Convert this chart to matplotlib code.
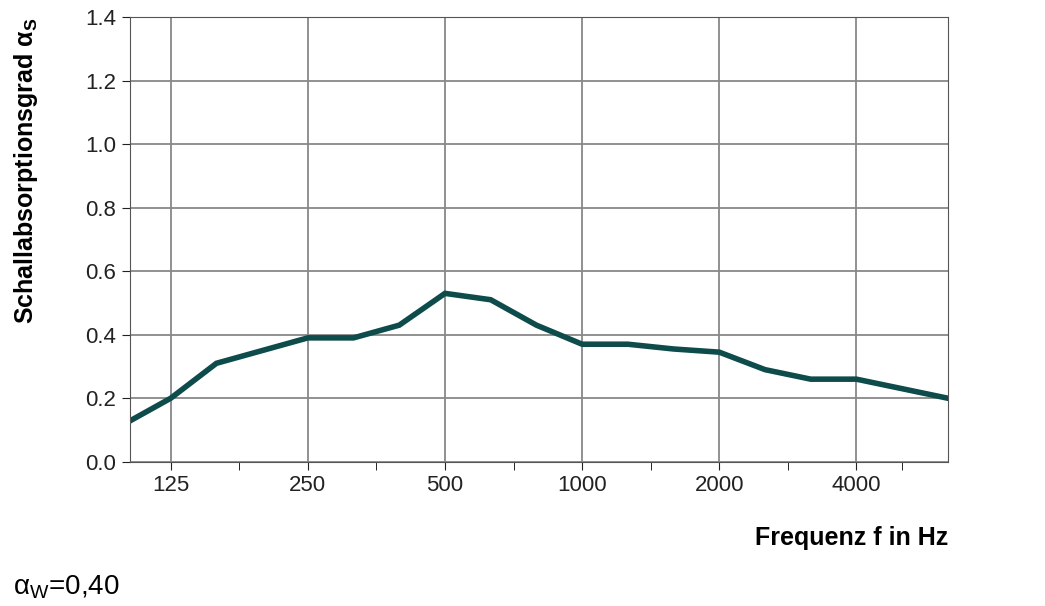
import matplotlib.pyplot as plt

plt.rcParams['font.family'] = ['Liberation Sans', 'DejaVu Sans']

freq_labels = ["125", "250", "500", "1000", "2000", "4000"]
label_pos = [1, 4, 7, 10, 13, 16]
# third-octave bands 100 Hz .. 6300 Hz
alpha = [0.12, 0.20, 0.31, 0.35, 0.39, 0.39, 0.43, 0.53, 0.51, 0.43, 0.37,
         0.37, 0.355, 0.345, 0.29, 0.26, 0.26, 0.23, 0.20]

fig = plt.figure(figsize=(10.45, 6.06), dpi=100)
ax = fig.add_axes([0.124, 0.238, 0.783, 0.734])
ax.plot(range(len(alpha)), alpha, color="#0e4b4b", lw=4, solid_joinstyle="miter")
ax.set_xlim(0.1, 18)
ax.set_ylim(0, 1.4)
ax.set_yticks([0, 0.2, 0.4, 0.6, 0.8, 1.0, 1.2, 1.4])
ax.set_yticklabels(["0.0", "0.2", "0.4", "0.6", "0.8", "1.0", "1.2", "1.4"])
ax.set_xticks(label_pos)
ax.set_xticklabels(freq_labels)
ax.set_xticks([2.5, 5.5, 8.5, 11.5, 14.5, 17], minor=True)
ax.tick_params(labelsize=16, colors="#222222", length=6)
ax.tick_params(which="minor", length=6)
ax.grid(True, color="#888888", lw=1.3)
for s in ax.spines.values():
    s.set_color("#555555")
ax.set_ylabel("Schallabsorptionsgrad α$_\\mathregular{S}$", fontsize=18,
              fontweight="bold", labelpad=18)
ax.yaxis.set_label_coords(-0.11, 1.0)
ax.yaxis.label.set_ha("right")
fig.text(0.907, 0.1, "Frequenz f in Hz", fontsize=18, fontweight="bold", ha="right")
fig.text(0.012, 0.02, "α$_\\mathregular{W}$=0,40", fontsize=20)
fig.savefig("out.png")
